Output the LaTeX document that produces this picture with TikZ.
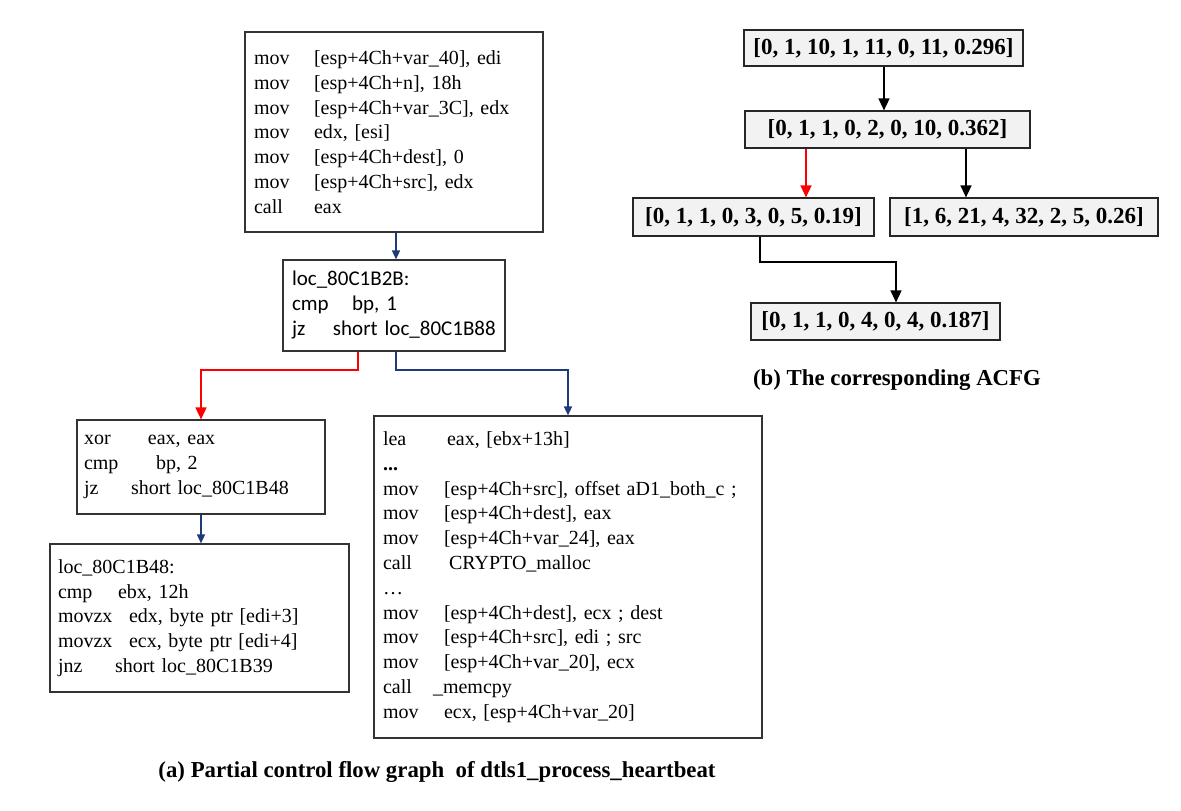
\documentclass[tikz,border=0pt]{standalone}
\usepackage{fontspec}
\setmainfont{Liberation Serif}
\newfontfamily\calib{Carlito}
\usetikzlibrary{arrows.meta}
\definecolor{navyline}{HTML}{1F3A78}
\definecolor{boxgray}{HTML}{F2F2F2}
\newcommand{\ins}[3]{\makebox[#1pt][l]{#2}#3\par}
\tikzset{
  asm/.style={draw=black!80, line width=1.2pt, inner sep=0pt, align=left,
    font=\fontsize{20}{24.8}\selectfont},
  acfg/.style={draw=black!85, line width=1.2pt, fill=boxgray, inner sep=0pt,
    font=\fontsize{23}{26}\selectfont\bfseries},
  navyarrow/.style={draw=navyline, line width=1.5pt, -{Triangle[length=9pt,width=8pt]}},
  redarrow/.style={draw=red, line width=1.5pt, -{Triangle[length=12pt,width=11pt]}},
  blackarrow/.style={draw=black, line width=1.5pt, -{Triangle[length=12pt,width=11pt]}},
  caption/.style={font=\fontsize{22.8}{26}\selectfont\bfseries, inner sep=0pt}
}
\begin{document}
\begin{tikzpicture}[x=1pt,y=-1pt]
\useasboundingbox (0,0) rectangle (1181,811);
% ---------- left: control flow graph ----------
\node[asm, minimum width=298pt, minimum height=200pt, text width=280pt] (top) at (394,132) {%
\ins{60}{mov}{[esp+4Ch+var\_40], edi}
\ins{60}{mov}{[esp+4Ch+n], 18h}
\ins{60}{mov}{[esp+4Ch+var\_3C], edx}
\ins{60}{mov}{edx, [esi]}
\ins{60}{mov}{[esp+4Ch+dest], 0}
\ins{60}{mov}{[esp+4Ch+src], edx}
\ins{60}{call}{eax}};
\node[asm, minimum width=222pt, minimum height=91pt, text width=204pt, font=\calib\fontsize{21}{25}\selectfont] (loc) at (394,305.5) {%
loc\_80C1B2B:\par
\ins{60}{cmp}{bp, 1}
\ins{41}{jz}{short loc\_80C1B88}};
\node[asm, minimum width=248pt, minimum height=94pt, text width=234pt] (xor) at (201,467) {%
\ins{64}{xor}{eax, eax}
\ins{72}{cmp}{bp, 2}
\ins{47}{jz}{short loc\_80C1B48}};
\node[asm, minimum width=299pt, minimum height=148pt, text width=283pt] (b48) at (199.5,618) {%
loc\_80C1B48:\par
\ins{60}{cmp}{ebx, 12h}
\ins{71}{movzx}{edx, byte ptr [edi+3]}
\ins{71}{movzx}{ecx, byte ptr [edi+4]}
\ins{57}{jnz}{short loc\_80C1B39}};
\node[asm, minimum width=388pt, minimum height=322pt, text width=370pt] (lea) at (568,577) {%
\ins{64}{lea}{eax, [ebx+13h]}
{\bfseries...}\par
\ins{61}{mov}{[esp+4Ch+src], offset aD1\_both\_c ;}
\ins{61}{mov}{[esp+4Ch+dest], eax}
\ins{61}{mov}{[esp+4Ch+var\_24], eax}
\ins{66}{call}{CRYPTO\_malloc}
\dots\par
\ins{61}{mov}{[esp+4Ch+dest], ecx ; dest}
\ins{61}{mov}{[esp+4Ch+src], edi ; src}
\ins{61}{mov}{[esp+4Ch+var\_20], ecx}
\ins{50}{call}{\_memcpy}
\ins{61}{mov}{ecx, [esp+4Ch+var\_20]}};
\coordinate (xa) at (396,0);
\coordinate (xr) at (358,0);
\coordinate (xl) at (201,0);
\coordinate (xb) at (568,0);
\coordinate (ybend) at (0,370);
\draw[navyarrow] (top.south -| xa) -- (loc.north -| xa);
\draw[redarrow] (loc.south -| xr) -- (xr |- ybend) -| (xor.north -| xl);
\draw[navyarrow] (loc.south -| xa) -- (xa |- ybend) -| (lea.north -| xb);
\draw[navyarrow] (xor.south -| xl) -- (b48.north -| xl);
\node[caption] (capa) at (437,772) {(a) Partial control flow graph\ \ of dtls1\_process\_heartbeat};
% ---------- right: ACFG ----------
\node[acfg, minimum width=279pt, minimum height=36pt] (v1) at (883.5,48) {[0, 1, 10, 1, 11, 0, 11, 0.296]};
\node[acfg, minimum width=285pt, minimum height=37pt] (v2) at (887.5,129.5) {[0, 1, 1, 0, 2, 0, 10, 0.362]};
\node[acfg, minimum width=241pt, minimum height=38pt] (v3) at (753.5,217) {[0, 1, 1, 0, 3, 0, 5, 0.19]};
\node[acfg, minimum width=268pt, minimum height=38pt] (v4) at (1024,217) {[1, 6, 21, 4, 32, 2, 5, 0.26]};
\node[acfg, minimum width=249pt, minimum height=37pt] (v5) at (875.5,321.5) {[0, 1, 1, 0, 4, 0, 4, 0.187]};
\coordinate (x1) at (884,0);
\coordinate (x2) at (806,0);
\coordinate (x3) at (966,0);
\coordinate (x4) at (760,0);
\coordinate (x5) at (896,0);
\coordinate (ybend2) at (0,262);
\draw[blackarrow] (v1.south -| x1) -- (v2.north -| x1);
\draw[redarrow] (v2.south -| x2) -- (v3.north -| x2);
\draw[blackarrow] (v2.south -| x3) -- (v4.north -| x3);
\draw[blackarrow] (v3.south -| x4) -- (x4 |- ybend2) -| (v5.north -| x5);
\node[caption] (capb) at (897,380) {(b) The corresponding ACFG};
\end{tikzpicture}
\end{document}
